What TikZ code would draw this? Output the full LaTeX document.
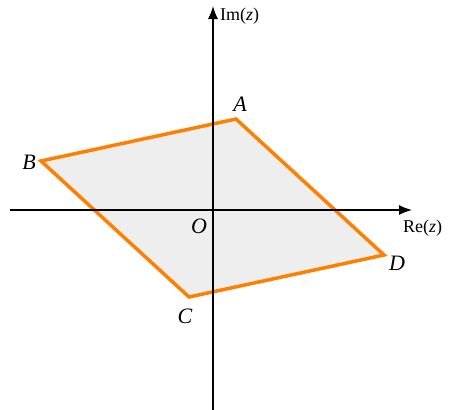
\documentclass[tikz,border=0pt]{standalone}
\usepackage{fontspec}
\setmainfont{Liberation Serif}
\usetikzlibrary{arrows.meta}
\definecolor{edgeorange}{HTML}{FF8000}
\definecolor{regionfill}{HTML}{EEEEEE}
\begin{document}
\begin{tikzpicture}[x=1pt,y=-1pt,
  axis/.style={line width=1.4pt,-{Latex[length=13pt,width=10pt]}},
  edge/.style={draw=edgeorange,fill=regionfill,line width=3.5pt,line join=miter},
  vlabel/.style={font=\fontsize{22}{24}\selectfont\itshape,inner sep=0pt},
  alabel/.style={font=\fontsize{18}{20}\selectfont,inner sep=0pt}]
\useasboundingbox (0,0) rectangle (453,410);
\coordinate (A) at (236,119);
\coordinate (B) at (41,161);
\coordinate (C) at (189,297);
\coordinate (D) at (384,255);
\filldraw[edge] (A) -- (B) -- (C) -- (D) -- cycle;
\coordinate (xl) at (10,210);
\coordinate (xr) at (412,210);
\coordinate (yb) at (213,410);
\coordinate (yt) at (213,6);
\draw[axis] (xl) -- (xr);
\draw[axis] (yb) -- (yt);
\node[vlabel] (lA) at (240,104) {A};
\node[vlabel] (lB) at (29,162) {B};
\node[vlabel] (lC) at (185,316) {C};
\node[vlabel] (lD) at (397,263) {D};
\node[vlabel] (lO) at (199,226) {O};
\node[alabel,anchor=west] (re) at (403,228) {Re(\textit{z})};
\node[alabel,anchor=west] (im) at (220,16) {Im(\textit{z})};
\end{tikzpicture}
\end{document}
